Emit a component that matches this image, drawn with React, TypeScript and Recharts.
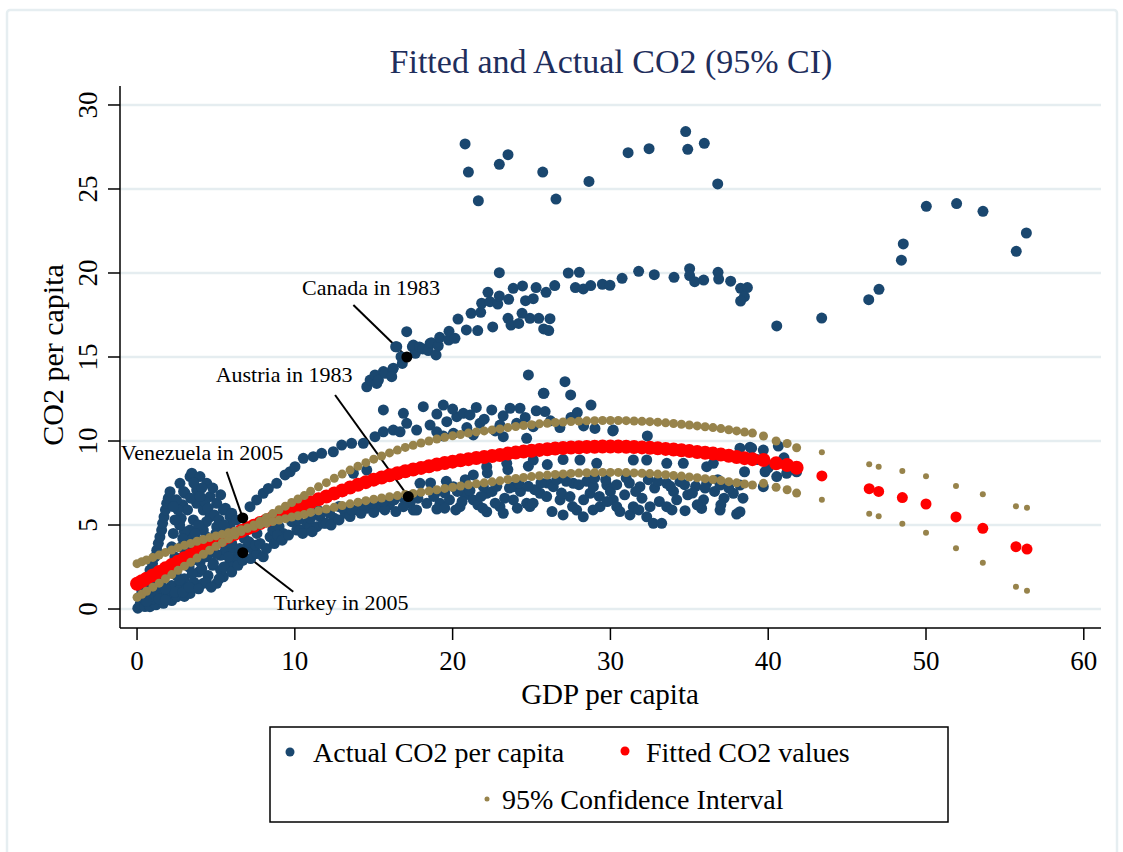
import React from 'react';
import { ScatterChart, Scatter, XAxis, YAxis, CartesianGrid, ReferenceLine } from 'recharts';

const FONT = '"Liberation Serif", "Times New Roman", serif';
const NAVY = '#1a476f';
const RED = '#ff0000';
const KHAKI = '#97834b';
const GRID = '#e5edf0';
const TITLE = '#1e2e5c';

const xTicks = [0, 10, 20, 30, 40, 50, 60];
const yTicks = [0, 5, 10, 15, 20, 25, 30];

// actual observations, grouped by region of the cloud: [gdp, co2]
const actualLowIncome: [number, number][] = [
  [0.05, 0.05], [0.19, 0.73], [0.3, 1.1], [0.51, 1.53], [0.65, 1.9], [0.82, 2.32], [0.98, 2.7], [1.14, 3.11],
  [1.25, 3.5], [1.35, 3.91], [1.45, 4.3], [1.56, 4.7], [1.62, 5.1], [1.71, 5.49], [1.8, 5.9], [1.88, 6.29],
  [1.98, 6.6], [2.09, 6.98],
  [0.2, 0.3], [0.5, 0.15], [0.82, 0.14], [1.2, 0.25], [1.67, 0.34], [2.2, 0.5], [2.51, 0.73], [3.0, 0.75],
  [3.36, 0.93], [0.4, 0.7], [0.7, 0.9], [1.0, 0.6], [1.3, 1.0], [1.9, 0.9], [0.9, 1.3], [1.1, 1.6], [1.5, 1.5],
  [2.2, 1.4], [2.8, 1.3], [1.5, 2.0], [2.0, 2.3], [2.5, 2.0], [3.0, 1.8], [3.6, 1.6], [4.2, 1.53], [5.05, 1.53],
  [3.9, 2.2], [4.5, 2.0], [5.47, 1.92], [2.6, 2.6], [3.3, 2.5], [4.0, 2.8], [4.8, 2.6], [5.3, 2.3], [3.0, 3.2],
  [3.57, 2.92], [4.42, 3.11], [4.84, 2.72], [5.89, 2.72], [5.3, 3.2], [3.8, 3.4], [4.6, 3.7], [5.6, 3.5],
  [6.1, 3.6], [2.4, 3.1], [2.8, 3.7], [3.2, 4.2], [5.2, 4.0], [6.2, 3.0], [5.8, 2.6], [6.53, 3.31], [7.0, 3.7],
  [7.37, 3.51], [6.8, 4.2], [6.0, 3.9],
  [0.6, 0.45], [1.4, 0.6], [1.8, 0.55], [2.4, 1.0], [2.9, 1.0], [3.3, 1.3], [3.9, 1.2], [4.4, 1.6], [4.7, 1.3],
  [5.2, 1.8], [5.5, 2.5], [6.0, 2.2], [6.4, 2.6], [6.7, 2.9], [7.2, 3.0], [7.6, 3.3], [4.1, 2.4], [3.5, 2.1],
  [2.7, 1.7], [1.8, 1.2], [5.0, 3.3], [5.8, 3.1], [6.5, 3.6], [7.1, 4.0], [7.5, 3.8],
  [2.72, 7.48], [3.04, 6.89], [3.36, 7.88], [3.47, 8.08], [3.78, 7.08], [3.99, 7.88], [4.42, 7.48], [4.63, 6.69],
  [3.78, 6.29], [5.05, 6.29], [4.2, 5.89], [5.47, 5.89], [4.63, 5.49], [5.89, 5.49], [3.57, 5.3], [3.36, 4.7],
  [4.2, 4.7], [5.05, 4.9], [5.89, 4.9], [3.78, 4.11], [4.63, 3.91], [3.57, 3.51], [2.9, 6.2], [2.8, 5.4],
  [3.0, 4.6], [4.8, 7.2], [5.3, 6.8], [5.6, 6.0], [6.0, 5.7], [6.3, 5.3], [4.3, 6.4], [2.95, 7.0], [3.2, 5.9],
  [2.5, 6.5], [2.6, 5.9], [2.7, 5.0], [2.9, 4.2], [3.1, 3.7], [3.4, 6.6], [3.6, 7.5], [4.1, 7.2], [4.0, 6.7],
  [4.5, 6.0], [4.9, 5.6], [5.2, 5.3], [5.5, 5.0], [4.4, 5.2], [3.9, 5.0], [3.7, 4.5], [4.4, 4.3], [5.0, 4.5],
  [5.5, 4.4], [4.1, 3.8], [3.4, 3.3], [3.9, 3.0], [2.2, 3.7], [2.3, 4.5], [2.4, 5.3], [2.3, 6.1],
  [8.0, 3.11], [7.8, 3.9], [7.6, 4.5], [8.43, 4.3], [8.6, 4.7], [9.0, 4.9], [9.27, 4.5], [9.8, 5.2], [10.12, 4.7],
  [10.33, 4.7], [10.75, 5.1], [10.96, 4.9], [11.39, 4.9], [11.6, 5.5], [11.81, 5.1], [12.0, 5.1], [12.5, 5.4],
  [13.2, 5.7], [13.9, 5.9], [14.6, 6.0], [15.3, 6.1], [16.0, 6.2],
  [8.2, 3.6], [8.7, 3.9], [8.9, 4.4], [9.2, 4.1], [9.6, 4.4], [10.5, 4.5], [11.1, 4.6], [12.3, 5.0], [12.8, 5.3],
  [13.5, 5.5], [14.2, 5.7], [15.0, 5.75], [15.7, 5.9], [16.4, 5.8], [10.2, 5.3], [11.0, 5.4], [12.2, 5.7],
  [13.0, 6.0], [13.6, 5.9], [14.3, 6.2], [14.9, 6.3], [15.6, 6.4], [16.3, 6.5], [16.9, 6.6], [17.3, 6.3],
  [12.8, 6.1], [11.5, 5.85],
];

const actualMiddle: [number, number][] = [
  [7.16, 6.09], [7.58, 6.49], [8.0, 6.89], [8.32, 7.18], [8.85, 7.48], [9.38, 7.98], [9.7, 8.17], [10.01, 8.47],
  [10.54, 8.97], [11.17, 9.07], [11.7, 9.27], [12.44, 9.36], [12.97, 9.76], [13.6, 9.86], [14.34, 9.86],
  [15.08, 10.26], [15.61, 10.55], [16.24, 10.65], [16.67, 10.55], [17.72, 10.65], [18.57, 10.95], [18.99, 10.55],
  [19.63, 11.15], [20.05, 10.46], [20.26, 11.45], [15.61, 11.85], [16.88, 11.65], [17.09, 11.05], [18.14, 12.04],
  [19.41, 12.14], [20.68, 11.65], [21.1, 11.55], [22.48, 11.85], [23.64, 11.95], [24.27, 11.95], [21.73, 11.05],
  [23.0, 10.95], [24.06, 11.05], [25.11, 10.85], [21.31, 10.36], [23.21, 10.26], [24.69, 10.16], [19.0, 11.6],
  [20.0, 11.9], [21.5, 12.0], [22.0, 11.3], [23.2, 11.5], [24.6, 11.4], [25.3, 11.8], [26.2, 11.2], [26.8, 10.8],
  [27.5, 11.4], [28.3, 10.9], [22.7, 10.6], [20.9, 10.8], [19.4, 10.3],
  [24.8, 13.93], [25.75, 12.84], [27.12, 13.53], [25.79, 12.84], [27.48, 12.74], [25.86, 11.75], [27.9, 11.69],
  [28.77, 12.14], [30.15, 10.6], [32.34, 10.3], [30.18, 10.65], [29.02, 10.75],
  [18.6, 7.5], [19.6, 7.6], [20.8, 7.7], [22.2, 8.1], [23.5, 8.3], [24.8, 8.5], [21.31, 7.98], [23.43, 8.67],
  [22.16, 8.47], [25.11, 8.87], [26.0, 8.6], [27.0, 8.9], [28.07, 8.87], [29.13, 8.67], [31.45, 8.87], [32.3, 8.87],
  [33.57, 8.67], [34.62, 8.67], [36.1, 8.47], [36.52, 8.67], [13.71, 8.08], [14.56, 8.27], [17.93, 7.48],
  [16.88, 6.09], [17.51, 5.89], [17.72, 5.89], [18.36, 6.29], [19.2, 6.29], [18.9, 6.9], [19.8, 6.5], [20.05, 7.28],
  [20.47, 6.09], [20.89, 7.28], [20.8, 6.8], [21.31, 6.49], [21.6, 6.2], [21.95, 7.28], [22.16, 6.89], [22.16, 5.79],
  [22.5, 7.0], [23.0, 6.09], [23.21, 5.7], [23.3, 6.6], [23.85, 6.49], [23.85, 7.28], [24.3, 7.0], [24.69, 6.29],
  [24.9, 6.1], [25.54, 6.89], [25.2, 7.1], [26.0, 7.5], [25.96, 6.69], [26.38, 7.28], [26.81, 6.49], [26.9, 6.9],
  [27.44, 6.69], [27.65, 7.48], [27.86, 5.89], [28.28, 5.49], [28.5, 7.6], [28.71, 6.89], [28.92, 7.28], [29.3, 6.7],
  [29.34, 6.09], [29.77, 7.38], [30.0, 7.0], [30.18, 6.49], [30.4, 6.09], [30.9, 6.8], [31.2, 7.5], [31.24, 5.6],
  [31.45, 6.09], [31.87, 7.28], [32.0, 6.6], [32.3, 5.49], [32.51, 6.09], [32.72, 5.1], [32.8, 7.2], [33.1, 6.4],
  [33.25, 5.1], [33.57, 6.09], [33.57, 7.48], [34.0, 7.0], [34.41, 7.58], [34.73, 5.85], [34.9, 6.8], [35.4, 7.3],
  [35.78, 5.99], [35.9, 6.5], [36.1, 7.48], [36.6, 7.0], [36.95, 5.89], [36.95, 7.38], [37.2, 6.6], [37.79, 6.89],
  [38.0, 5.65], [38.21, 5.79], [38.21, 7.38], [27.6, 6.1], [28.9, 5.9], [30.6, 5.8], [31.8, 5.9], [33.9, 5.9],
  [26.3, 5.8], [25.1, 6.3], [19.0, 5.95], [21.9, 6.0], [20.2, 5.9],
  [17.8, 6.6], [18.8, 6.7], [19.5, 6.9], [20.3, 7.0], [21.1, 7.05], [21.8, 6.7], [22.8, 7.3], [23.6, 7.2],
  [24.2, 7.5], [24.8, 7.3], [25.6, 7.5], [26.6, 7.7], [27.2, 7.6], [28.0, 7.4], [29.0, 7.8], [29.7, 7.7],
  [30.4, 7.4], [31.0, 7.8], [31.6, 7.0], [32.4, 7.7], [33.0, 7.6], [33.8, 7.3], [34.7, 7.4], [35.2, 6.9],
  [36.0, 7.2], [36.8, 7.7], [37.5, 7.2], [38.4, 6.6], [37.0, 6.2], [35.5, 6.2], [34.2, 6.5], [29.8, 6.4],
  [28.3, 6.5], [27.0, 5.6], [24.1, 6.0], [22.7, 6.3], [20.6, 6.4], [19.5, 6.0],
  [38.21, 9.57], [38.85, 9.63], [38.95, 9.57], [39.69, 9.46], [40.64, 9.7], [40.54, 7.88], [41.17, 8.08],
  [39.69, 7.28], [38.5, 8.17], [39.8, 8.17], [41.8, 8.17], [40.0, 8.4], [41.0, 9.0], [39.3, 8.9],
];

const actualUpperBranch: [number, number][] = [
  [14.56, 13.23], [14.77, 13.63], [15.08, 13.93], [15.19, 13.43], [15.3, 13.63], [15.61, 14.13], [15.72, 14.03],
  [16.2, 14.27], [16.24, 14.33], [16.14, 13.83], [16.46, 15.61], [16.73, 15.02], [16.81, 14.62], [16.39, 15.61],
  [17.09, 16.51], [17.45, 15.61], [17.64, 15.22], [17.51, 15.71], [17.9, 15.6], [18.11, 15.48], [18.46, 15.38],
  [18.57, 15.81], [18.65, 15.85], [18.95, 15.12], [19.09, 15.67], [19.18, 16.17], [19.75, 16.01], [19.77, 16.53],
  [20.15, 16.11], [20.34, 17.26], [20.87, 16.61], [21.17, 17.6], [21.59, 16.57], [21.78, 17.66], [21.84, 18.2],
  [22.24, 18.85], [22.37, 18.29], [22.54, 16.79], [22.86, 18.15], [22.96, 18.63], [22.96, 20.02], [23.51, 17.3],
  [23.55, 18.43], [23.7, 16.9], [23.84, 19.09], [24.19, 17.0], [24.4, 17.6], [24.43, 19.23], [24.62, 18.35],
  [24.9, 17.3], [25.11, 18.47], [25.29, 19.13], [25.46, 17.3], [25.77, 16.67], [25.92, 18.85], [26.09, 16.57],
  [26.17, 17.28], [26.47, 19.25], [27.33, 20.0], [27.78, 19.13], [28.03, 20.04], [28.28, 19.05], [28.75, 19.25],
  [29.49, 19.33], [29.97, 19.27], [30.74, 19.68], [31.79, 20.1], [32.78, 19.9], [34.03, 19.74], [35.02, 20.26],
  [35.02, 19.85], [35.34, 19.48], [35.91, 19.58], [36.82, 20.04], [36.86, 19.64], [37.62, 19.51], [38.25, 19.09],
  [38.68, 19.13], [38.49, 18.59], [38.25, 18.33],
];

const actualHighOutliers: [number, number][] = [
  [20.79, 27.68], [21.0, 26.01], [21.63, 24.3], [22.96, 26.47], [23.51, 27.04], [25.71, 26.01], [26.55, 24.4],
  [28.64, 25.45], [31.12, 27.16], [32.45, 27.4], [34.77, 28.42], [34.9, 27.36], [35.95, 27.72], [36.8, 25.3],
  [40.54, 16.85], [43.39, 17.32], [46.37, 18.41], [47.02, 19.03], [48.44, 20.76], [48.56, 21.73], [50.02, 23.97],
  [51.94, 24.13], [53.61, 23.67], [55.72, 21.29], [56.36, 22.38],
];

// fitted values and the two confidence bands, one entry per gdp value
const fitGdp = [
  0, 0.3, 0.6, 1, 1.4, 1.8, 2.2, 2.6, 3, 3.4, 3.8, 4.2, 4.6, 5, 5.4, 5.8, 6.2, 6.6, 7, 7.4, 7.8, 8.2, 8.6, 9, 9.4,
  9.8, 10.2, 10.6, 11, 11.5, 12, 12.5, 13, 13.5, 14, 14.5, 15, 15.5, 16, 16.5, 17, 17.5, 18, 18.5, 19, 19.5, 20,
  20.5, 21, 21.5, 22, 22.5, 23, 23.5, 24, 24.5, 25, 25.5, 26, 26.5, 27, 27.5, 28, 28.5, 29, 29.5, 30, 30.5, 31,
  31.5, 32, 32.5, 33, 33.5, 34, 34.5, 35, 35.5, 36, 36.5, 37, 37.5, 38, 38.5, 39, 39.7, 40.5, 41.2, 41.8,
  43.4, 46.4, 47.0, 48.5, 50.0, 51.9, 53.6, 55.7, 56.4,
];
const fitCo2 = [
  1.5, 1.65, 1.8, 2.0, 2.2, 2.42, 2.62, 2.82, 3.02, 3.2, 3.4, 3.58, 3.77, 3.95, 4.12, 4.3, 4.47, 4.64, 4.8, 4.96,
  5.12, 5.27, 5.43, 5.58, 5.72, 5.87, 6.01, 6.15, 6.35, 6.53, 6.7, 6.88, 7.06, 7.23, 7.4, 7.55, 7.7, 7.83, 7.96,
  8.08, 8.2, 8.3, 8.4, 8.5, 8.6, 8.69, 8.77, 8.85, 8.92, 8.99, 9.05, 9.11, 9.17, 9.25, 9.31, 9.37, 9.42, 9.47,
  9.51, 9.55, 9.58, 9.61, 9.63, 9.65, 9.66, 9.67, 9.67, 9.67, 9.66, 9.64, 9.62, 9.6, 9.57, 9.53, 9.49, 9.45, 9.4,
  9.35, 9.3, 9.25, 9.19, 9.12, 9.05, 8.98, 8.92, 8.87, 8.67, 8.57, 8.41,
  7.92, 7.16, 7.0, 6.63, 6.25, 5.48, 4.8, 3.71, 3.57,
];
const ciUpper = [
  0.7, 0.88, 1.06, 1.3, 1.54, 1.8, 2.05, 2.3, 2.55, 2.78, 3.03, 3.26, 3.5, 3.73, 3.95, 4.18, 4.4, 4.61, 4.8, 5.0,
  5.23, 5.45, 5.68, 5.91, 6.12, 6.34, 6.55, 6.75, 7.01, 7.27, 7.52, 7.78, 8.03, 8.27, 8.5, 8.71, 8.92, 9.11, 9.29,
  9.46, 9.62, 9.75, 9.88, 10.0, 10.12, 10.22, 10.31, 10.39, 10.47, 10.54, 10.6, 10.66, 10.72, 10.8, 10.86, 10.92,
  10.97, 11.02, 11.06, 11.1, 11.13, 11.16, 11.18, 11.2, 11.21, 11.22, 11.22, 11.22, 11.21, 11.19, 11.17, 11.15,
  11.12, 11.08, 11.04, 11.0, 10.95, 10.9, 10.85, 10.8, 10.74, 10.67, 10.6, 10.53, 10.47, 10.3, 10.0, 9.85, 9.6,
  9.33, 8.61, 8.47, 8.21, 7.9, 7.32, 6.83, 6.11, 6.03,
];
const ciLower = [
  2.7, 2.81, 2.92, 3.07, 3.21, 3.37, 3.51, 3.65, 3.79, 3.9, 4.03, 4.14, 4.25, 4.35, 4.44, 4.54, 4.63, 4.72, 4.82,
  4.92, 5.02, 5.11, 5.21, 5.3, 5.38, 5.47, 5.55, 5.63, 5.75, 5.85, 5.95, 6.06, 6.16, 6.26, 6.36, 6.45, 6.54, 6.61,
  6.68, 6.75, 6.82, 6.88, 6.95, 7.02, 7.1, 7.18, 7.25, 7.32, 7.39, 7.45, 7.51, 7.57, 7.63, 7.71, 7.77, 7.83, 7.88,
  7.93, 7.97, 8.01, 8.04, 8.07, 8.09, 8.11, 8.12, 8.13, 8.13, 8.13, 8.12, 8.1, 8.08, 8.06, 8.03, 7.99, 7.95, 7.91,
  7.86, 7.81, 7.76, 7.71, 7.65, 7.58, 7.51, 7.44, 7.38, 7.48, 7.25, 7.1, 6.9,
  6.51, 5.67, 5.52, 5.08, 4.54, 3.61, 2.76, 1.33, 1.09,
];

// labelled observations
const notePoints = [
  { x: 17.1, y: 15.0 },
  { x: 17.19, y: 6.69 },
  { x: 6.7, y: 5.42 },
  { x: 6.7, y: 3.35 },
];
const noteLabels = [
  { x: 14.83, y: 19.17, text: 'Canada in 1983' },
  { x: 9.32, y: 13.99, text: 'Austria in 1983' },
  { x: 4.12, y: 9.35, text: 'Venezuela in 2005' },
  { x: 12.93, y: 0.42, text: 'Turkey in 2005' },
];
const noteLines = [
  [{ x: 13.71, y: 18.1 }, { x: 17.1, y: 15.0 }],
  [{ x: 12.55, y: 12.74 }, { x: 17.19, y: 6.69 }],
  [{ x: 5.68, y: 8.17 }, { x: 6.7, y: 5.42 }],
  [{ x: 6.7, y: 3.35 }, { x: 9.9, y: 1.03 }],
];

const toPoints = (pairs: [number, number][]) => pairs.map(([x, y]) => ({ x, y }));
const actualData = toPoints([...actualLowIncome, ...actualMiddle, ...actualUpperBranch, ...actualHighOutliers]);
const fittedData = fitGdp.map((x, i) => ({ x, y: fitCo2[i] }));
const ciData = [
  ...fitGdp.map((x, i) => ({ x, y: ciUpper[i] })),
  ...fitGdp.map((x, i) => ({ x, y: ciLower[i] })),
];

// markers are bigger where the observations pile up, smaller in the sparse tail
const dot = (r: number, fill: string) => (p: any) => <circle cx={p.cx} cy={p.cy} r={r} fill={fill} />;
const fitDot = (p: any) => <circle cx={p.cx} cy={p.cy} r={p.payload.x < 42.5 ? 7 : 5.5} fill={RED} />;
const ciDot = (p: any) => <circle cx={p.cx} cy={p.cy} r={p.payload.x < 42.5 ? 4.5 : 3} fill={KHAKI} />;
const noteText = (p: any) => (
  <text x={p.cx} y={p.cy} dy="0.35em" textAnchor="middle" fontSize={22} fontFamily={FONT} fill="#000">
    {p.payload.text}
  </text>
);

const XTick = ({ x, payload }: any) => (
  <text x={x} y={670} textAnchor="middle" fontSize={27} fontFamily={FONT} fill="#000">{payload.value}</text>
);
const YTick = ({ y, payload }: any) => (
  <text x={97} y={y} transform={`rotate(-90 97 ${y})`} textAnchor="middle" fontSize={27} fontFamily={FONT} fill="#000">
    {payload.value}
  </text>
);

const axisStroke = { stroke: '#000', strokeWidth: 1.5 };

export default function App() {
  return (
    <div style={{ position: 'absolute', left: 0, top: 0, width: 1123, height: 852, background: '#fff' }}>
      <ScatterChart width={1123} height={852} margin={{ top: 86, right: 22, bottom: 194, left: 60 }}>
        <CartesianGrid vertical={false} stroke={GRID} strokeWidth={2.5} horizontalValues={yTicks} />
        <XAxis
          type="number"
          dataKey="x"
          domain={[-1.08, 61.09]}
          allowDataOverflow
          ticks={xTicks}
          interval={0}
          tickSize={12}
          axisLine={axisStroke}
          tickLine={axisStroke}
          tick={<XTick />}
        />
        <YAxis
          type="number"
          dataKey="y"
          domain={[-1.13, 31.13]}
          allowDataOverflow
          ticks={yTicks}
          interval={0}
          tickSize={12}
          axisLine={axisStroke}
          tickLine={axisStroke}
          tick={<YTick />}
        />
        <Scatter data={actualData} fill={NAVY} shape={dot(5.5, NAVY)} isAnimationActive={false} />
        <Scatter data={fittedData} fill={RED} shape={fitDot} isAnimationActive={false} />
        <Scatter data={ciData} fill={KHAKI} shape={ciDot} isAnimationActive={false} />
        {noteLines.map((seg, i) => (
          <ReferenceLine key={i} segment={seg} stroke="#000" strokeWidth={2} />
        ))}
        <Scatter data={notePoints} fill="#000" shape={dot(5.5, '#000')} isAnimationActive={false} />
        <Scatter data={noteLabels} fill="#000" shape={noteText} isAnimationActive={false} />
      </ScatterChart>

      <svg width={1123} height={852} style={{ position: 'absolute', left: 0, top: 0, pointerEvents: 'none' }}>
        <rect x={7} y={10} width={1110} height={850} rx={3} fill="none" stroke="#e6eef1" strokeWidth={2.5} />
        <text x={611} y={73} textAnchor="middle" fontSize={34} fontFamily={FONT} fill={TITLE}>
          Fitted and Actual CO2 (95% CI)
        </text>
        <text x={610} y={704} textAnchor="middle" fontSize={29} fontFamily={FONT} fill="#000">GDP per capita</text>
        <text x={63} y={355} transform="rotate(-90 63 355)" textAnchor="middle" fontSize={30} fontFamily={FONT} fill="#000">
          CO2 per capita
        </text>
        <rect x={270} y={727} width={678} height={95} fill="#fff" stroke="#000" strokeWidth={1.5} />
        <circle cx={290} cy={752} r={4.5} fill={NAVY} />
        <text x={313} y={762} fontSize={28} fontFamily={FONT} fill="#000">Actual CO2 per capita</text>
        <circle cx={625} cy={751} r={4.5} fill={RED} />
        <text x={646} y={762} fontSize={28} fontFamily={FONT} fill="#000">Fitted CO2 values</text>
        <circle cx={487} cy={799} r={2.5} fill={KHAKI} />
        <text x={502} y={809} fontSize={28} fontFamily={FONT} fill="#000">95% Confidence Interval</text>
      </svg>
    </div>
  );
}
